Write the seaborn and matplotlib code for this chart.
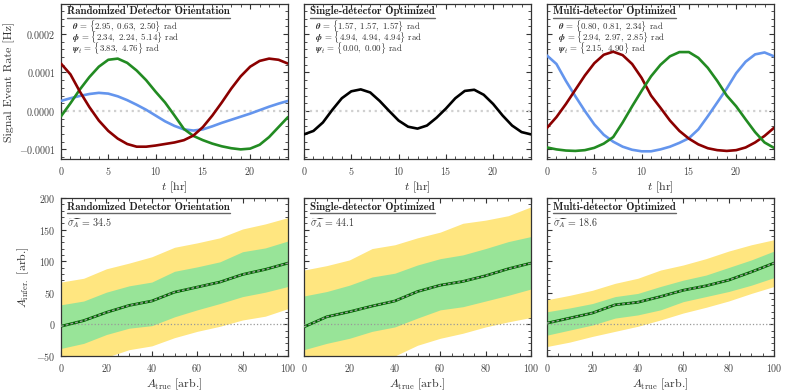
import numpy as np
import pandas as pd
import seaborn as sns
import matplotlib
matplotlib.use("Agg")
import matplotlib.pyplot as plt
from matplotlib.ticker import MultipleLocator, FuncFormatter
from matplotlib.lines import Line2D

# ---------------- data (top row, units of 1e-4 Hz) ----------------
t_hr = list(range(25))
rand_green = [-0.14, 0.20, 0.56, 0.88, 1.15, 1.33, 1.36, 1.25, 1.05, 0.80, 0.50, 0.22, -0.12,
              -0.47, -0.65, -0.76, -0.85, -0.92, -0.97, -1.00, -0.98, -0.88, -0.68, -0.42, -0.16]
rand_red = [1.23, 0.95, 0.50, 0.10, -0.25, -0.52, -0.72, -0.86, -0.93, -0.93, -0.90, -0.86, -0.82,
            -0.76, -0.64, -0.42, -0.12, 0.22, 0.58, 0.90, 1.15, 1.30, 1.36, 1.33, 1.23]
rand_blue = [0.26, 0.33, 0.39, 0.44, 0.47, 0.45, 0.38, 0.28, 0.16, 0.03, -0.12, -0.27, -0.39,
             -0.48, -0.51, -0.48, -0.40, -0.31, -0.23, -0.15, -0.07, 0.02, 0.11, 0.19, 0.26]
single_black = [-0.61, -0.52, -0.30, 0.03, 0.33, 0.51, 0.56, 0.48, 0.26, 0.00, -0.25, -0.41, -0.46,
                -0.38, -0.18, 0.06, 0.33, 0.52, 0.55, 0.42, 0.18, -0.12, -0.38, -0.55, -0.61]
multi_blue = [1.44, 1.22, 0.78, 0.38, 0.00, -0.35, -0.62, -0.80, -0.93, -1.01, -1.05, -1.05, -1.00,
              -0.93, -0.83, -0.71, -0.48, -0.14, 0.22, 0.58, 0.98, 1.28, 1.47, 1.52, 1.42]
multi_red = [-0.44, -0.16, 0.18, 0.55, 0.92, 1.24, 1.46, 1.54, 1.45, 1.22, 0.86, 0.40, 0.08,
             -0.25, -0.52, -0.72, -0.87, -0.97, -1.02, -1.04, -1.02, -0.95, -0.82, -0.65, -0.44]
multi_green = [-0.95, -1.00, -1.03, -1.04, -1.02, -0.96, -0.85, -0.68, -0.30, 0.12, 0.52, 0.90, 1.20,
               1.42, 1.53, 1.53, 1.38, 1.12, 0.78, 0.40, 0.12, -0.22, -0.55, -0.82, -0.96]

titles = ["Randomized Detector Orientation", "Single-detector Optimized", "Multi-detector Optimized"]
theta_txt = ["{2.95, 0.63, 2.50}", "{1.57, 1.57, 1.57}", "{0.80, 0.81, 2.34}"]
phi_txt = ["{2.34, 2.24, 5.14}", "{4.94, 4.94, 4.94}", "{2.94, 2.97, 2.85}"]
psi_txt = ["{3.83, 4.76}", "{0.00, 0.00}", "{2.15, 4.90}"]
sigma_vals = ["34.5", "44.1", "18.6"]

# ---------------- data (bottom row) ----------------
a_true = [0, 10, 20, 30, 40, 50, 60, 70, 80, 90, 100]
rand_y_hi = [67, 73, 88, 97, 107, 122, 129, 137, 151, 159, 169]
rand_g_hi = [31, 37, 51, 61, 67, 84, 91, 99, 115, 121, 132]
rand_med = [-3, 6, 19, 30, 37, 51, 59, 67, 79, 87, 97]
rand_g_lo = [-38, -30, -16, -6, -2, 12, 23, 33, 44, 51, 60]
rand_y_lo = [-66, -60, -52, -40, -34, -21, -11, -3, 7, 13, 25]

sing_y_hi = [86, 93, 102, 120, 126, 137, 146, 160, 165, 172, 186]
sing_g_hi = [45, 52, 62, 75, 81, 94, 104, 110, 120, 131, 139]
sing_med = [-4, 12, 20, 29, 37, 52, 62, 68, 77, 88, 97]
sing_g_lo = [-40, -30, -22, -11, -4, 10, 23, 28, 37, 46, 56]
sing_y_lo = [-82, -74, -66, -58, -50, -33, -22, -14, -4, 4, 11]

mult_y_hi = [39, 46, 54, 65, 73, 86, 94, 104, 116, 126, 134]
mult_g_hi = [20, 26, 33, 44, 49, 60, 70, 78, 90, 102, 116]
mult_med = [2, 10, 18, 31, 35, 44, 54, 61, 70, 83, 97]
mult_g_lo = [-17, -9, -1, 10, 15, 23, 36, 44, 52, 62, 74]
mult_y_lo = [-35, -28, -19, -11, -3, 7, 18, 27, 37, 49, 60]

# ---------------- style ----------------
sns.set_style("ticks")
plt.rcParams.update({
    "font.family": ["cmr10", "DejaVu Serif"],
    "mathtext.fontset": "cm",
    "axes.formatter.use_mathtext": True,
    "axes.edgecolor": "#333333",
    "axes.linewidth": 0.9,
    "xtick.direction": "in",
    "ytick.direction": "in",
    "xtick.top": True,
    "ytick.right": True,
    "xtick.minor.visible": True,
    "ytick.minor.visible": True,
    "xtick.major.size": 3.5,
    "ytick.major.size": 3.5,
    "xtick.minor.size": 2,
    "ytick.minor.size": 2,
    "xtick.major.pad": 4,
    "ytick.major.pad": 4,
    "xtick.color": "#333333",
    "ytick.color": "#333333",
    "xtick.labelcolor": "#444444",
    "ytick.labelcolor": "#444444",
    "xtick.labelsize": 7.2,
    "ytick.labelsize": 7.2,
})

from matplotlib.mathtext import MathTextParser
_p = MathTextParser("path")
def bold_greek(sym):
    s = r"$\boldsymbol{%s}$" % sym
    try:
        _p.parse(s)
        return r"\boldsymbol{%s}" % sym
    except Exception:
        return r"\mathbf{%s}" % sym

bth = bold_greek(r"\theta")
bph = bold_greek(r"\phi")
bps = bold_greek(r"\psi")

def esc(s):
    return s.replace("{", r"\{").replace("}", r"\}").replace(", ", r",\ ")

fig = plt.figure(figsize=(7.85, 3.91), dpi=100)
lefts = [61 / 785, 304 / 785, 547 / 785]
w = 227 / 785
top_ax = [fig.add_axes([l, (391 - 159) / 391, w, 155 / 391]) for l in lefts]
bot_ax = [fig.add_axes([l, (391 - 356) / 391, w, 158 / 391]) for l in lefts]

fmt_top = FuncFormatter(lambda v, p: r"$%.4f$" % v)
fmt_int = FuncFormatter(lambda v, p: r"$%g$" % v)

top_series = [
    [(rand_blue, "#6495ED"), (rand_green, "#228B22"), (rand_red, "#8B0000")],
    [(single_black, "black")],
    [(multi_blue, "#6495ED"), (multi_red, "#8B0000"), (multi_green, "#228B22")],
]

LAB = 8.6
PFS = 6.4
title_texts = []
for i, ax in enumerate(top_ax):
    ax.axhline(0, color="#d0d0d0", lw=1.6, ls=":", zorder=1)
    for vals, col in top_series[i]:
        df = pd.DataFrame({"t": t_hr, "rate": np.array(vals) * 1e-4})
        sns.lineplot(data=df, x="t", y="rate", ax=ax, color=col, lw=1.9, zorder=3)
    ax.set_xlim(0, 24)
    ax.set_ylim(-0.000125, 0.000278)
    ax.xaxis.set_major_locator(MultipleLocator(5))
    ax.xaxis.set_minor_locator(MultipleLocator(1))
    ax.yaxis.set_major_locator(MultipleLocator(0.0001))
    ax.yaxis.set_minor_locator(MultipleLocator(0.00002))
    ax.xaxis.set_major_formatter(fmt_int)
    ax.set_xlabel(r"$t$ [hr]", fontsize=LAB, labelpad=2, color="#333333")
    if i == 0:
        ax.yaxis.set_major_formatter(fmt_top)
        ax.set_ylabel("Signal Event Rate [Hz]", fontsize=LAB, labelpad=3, color="#333333")
    else:
        ax.set_yticklabels([])
        ax.set_ylabel("")
    tt = ax.text(0.027, 0.985, titles[i], transform=ax.transAxes, ha="left", va="top",
                 fontsize=7.9, family="cmb10", color="#222222")
    title_texts.append(tt)
    ax.text(0.05, 0.858, r"$%s$ = $%s$ rad" % (bth, esc(theta_txt[i])),
            transform=ax.transAxes, ha="left", va="center", fontsize=PFS, color="#333333")
    ax.text(0.05, 0.788, r"$%s$ = $%s$ rad" % (bph, esc(phi_txt[i])),
            transform=ax.transAxes, ha="left", va="center", fontsize=PFS, color="#333333")
    ax.text(0.05, 0.718, r"$%s_t$ = $%s$ rad" % (bps, esc(psi_txt[i])),
            transform=ax.transAxes, ha="left", va="center", fontsize=PFS, color="#333333")

bands = [
    (rand_y_hi, rand_g_hi, rand_med, rand_g_lo, rand_y_lo),
    (sing_y_hi, sing_g_hi, sing_med, sing_g_lo, sing_y_lo),
    (mult_y_hi, mult_g_hi, mult_med, mult_g_lo, mult_y_lo),
]
for i, ax in enumerate(bot_ax):
    yh, gh, md, gl, yl = bands[i]
    ax.fill_between(a_true, yl, yh, color="#FFE680", lw=0, zorder=1)
    ax.fill_between(a_true, gl, gh, color="#98E498", lw=0, zorder=2)
    ax.axhline(0, color="#999999", lw=0.9, ls=":", zorder=3)
    df = pd.DataFrame({"A_true": a_true, "A_infer": md})
    sns.lineplot(data=df, x="A_true", y="A_infer", ax=ax, color="#006400", lw=2.0, zorder=4)
    sns.lineplot(data=df, x="A_true", y="A_infer", ax=ax, color="#9a9a9a", lw=1.0,
                 ls=(0, (2, 1.5)), zorder=5)
    ax.set_xlim(0, 100)
    ax.set_ylim(-50, 200)
    ax.xaxis.set_major_locator(MultipleLocator(20))
    ax.xaxis.set_minor_locator(MultipleLocator(5))
    ax.yaxis.set_major_locator(MultipleLocator(50))
    ax.yaxis.set_minor_locator(MultipleLocator(10))
    ax.xaxis.set_major_formatter(fmt_int)
    ax.set_xlabel(r"$A_{\rm true}$ [arb.]", fontsize=LAB, labelpad=2, color="#333333")
    if i == 0:
        ax.yaxis.set_major_formatter(fmt_int)
        ax.set_ylabel(r"$A_{\rm infer.}$ [arb.]", fontsize=LAB, labelpad=4, color="#333333")
    else:
        ax.set_yticklabels([])
        ax.set_ylabel("")
    tt = ax.text(0.027, 0.975, titles[i], transform=ax.transAxes, ha="left", va="top",
                 fontsize=7.9, family="cmb10", color="#222222")
    title_texts.append(tt)
    ax.text(0.027, 0.84, r"$\widetilde{\sigma_A}$ = $%s$" % sigma_vals[i], transform=ax.transAxes,
            ha="left", va="center", fontsize=7.2, color="#333333")

# underline titles
fig.canvas.draw()
renderer = fig.canvas.get_renderer()
inv = fig.transFigure.inverted()
for tt in title_texts:
    bb = tt.get_window_extent(renderer)
    (x0, y0) = inv.transform((bb.x0, bb.y0 - 1.2))
    (x1, _) = inv.transform((bb.x1, bb.y0 - 1.2))
    fig.add_artist(Line2D([x0, x1], [y0, y0], transform=fig.transFigure, color="#666666", lw=1.0))

fig.savefig("out.png", dpi=100)
